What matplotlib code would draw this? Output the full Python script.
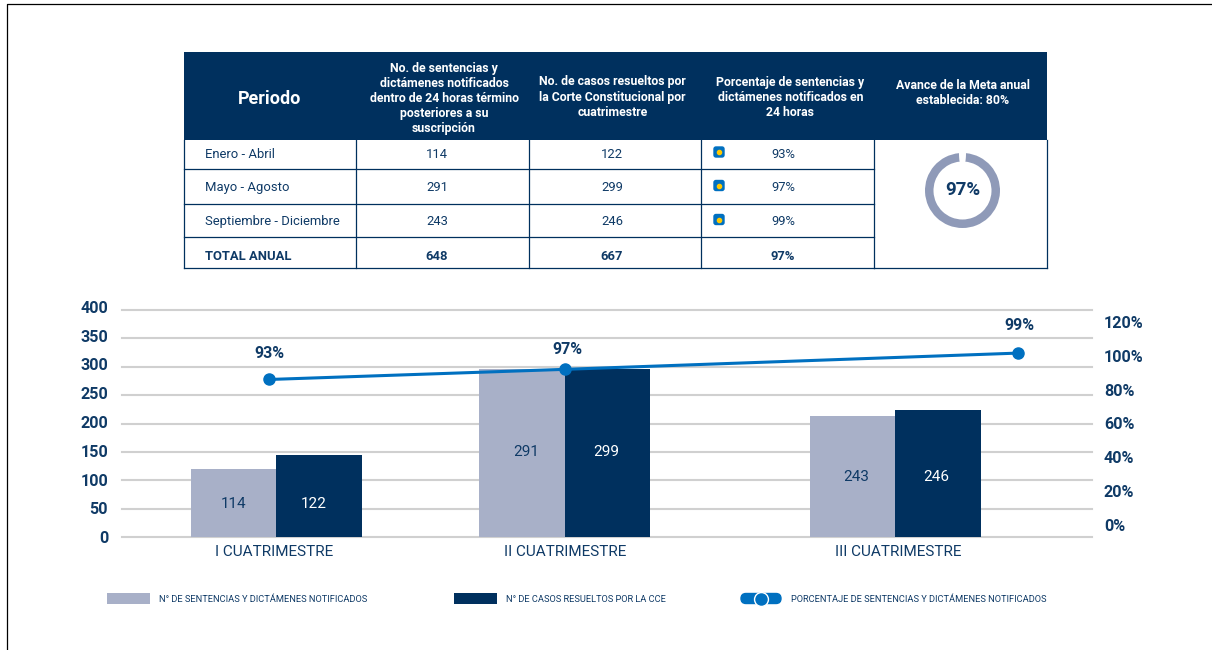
import matplotlib
matplotlib.use('Agg')
from matplotlib import pyplot as plt
from matplotlib.patches import FancyBboxPatch, Rectangle
from matplotlib.transforms import ScaledTranslation

plt.rcParams['font.family'] = ['Roboto', 'DejaVu Sans']

# table
headers = ['Periodo',
	'No. de sentencias y\ndictámenes notificados\ndentro de 24 horas término\nposteriores a su\nsuscripción',
	'No. de casos resueltos por\nla Corte Constitucional por\ncuatrimestre',
	'Porcentaje de sentencias y\ndictámenes notificados en\n24 horas',
	'Avance de la Meta anual\nestablecida: 80%']
periodos = ['Enero - Abril', 'Mayo - Agosto', 'Septiembre - Diciembre']
notificados = [114, 291, 243]
resueltos = [122, 299, 246]
porcentajes = [93, 97, 99]
total_label = 'TOTAL ANUAL'
total_notificados = 648
total_resueltos = 667
total_porcentaje = 97
avance = 97

# chart, the drawn heights differ from the printed labels in the original
categorias = ['I CUATRIMESTRE', 'II CUATRIMESTRE', 'III CUATRIMESTRE']
alto_notificados = [120, 296, 213]
alto_resueltos = [144, 296, 224]
linea_valores = [86, 92, 101.6]
ticks_izq = [0, 50, 100, 150, 200, 250, 300, 350, 400]
ticks_der = [0, 20, 40, 60, 80, 100, 120]
leyenda = ['N° DE SENTENCIAS Y DICTÁMENES NOTIFICADOS', 'N° DE CASOS RESUELTOS POR LA CCE',
	'PORCENTAJE DE SENTENCIAS Y DICTÁMENES NOTIFICADOS']

NAVY = '#00305E'
TEXT = '#0F3A66'
GREY = '#A8B0C8'
BLUE = '#0070C0'
W, H = 1212, 650

fig = plt.figure(figsize=(W / 100, H / 100), dpi=100)

# chart axes, x runs in picture pixels because the groups are not evenly spaced
ax = fig.add_axes([122 / W, 1 - 537 / H, 970 / W, 227 / H])
ax.set_xlim(122, 1092)
ax.set_ylim(0, 400)
for s in ax.spines.values():
	s.set_visible(False)
ax.set_yticks(ticks_izq)
ax.grid(axis='y', color='#D0D0D0', lw=1.5, zorder=0, clip_on=False)
ax.set_axisbelow(True)
ax.tick_params(axis='y', length=0, pad=10, labelsize=11.6, labelcolor=TEXT)
for t, label in zip(ticks_izq, ax.get_yticklabels()):
	label.set_fontweight('bold')
	label.set_transform(label.get_transform() + ScaledTranslation(0, 3 * t / 400 / 100, fig.dpi_scale_trans))

centros = [276.3, 564.5, 895.2]
ancho = 85.4
ax.bar([c - ancho / 2 for c in centros], alto_notificados, width=ancho, color=GREY, zorder=2)
ax.bar([c + ancho / 2 for c in centros], alto_resueltos, width=ancho, color=NAVY, zorder=2)
ax.set_xticks([274, 565, 898])
ax.set_xticklabels(categorias)
ax.tick_params(axis='x', length=0, pad=5.5, labelsize=11, labelcolor=TEXT)

label_y = [58.5, 149.5, 105.5]
x_n = [234, 526, 856]
x_r = [314, 606, 936]
for i in range(3):
	ax.text(x_n[i], label_y[i], str(notificados[i]), ha='center', va='center', fontsize=11, color=TEXT, zorder=4)
	ax.text(x_r[i], label_y[i], str(resueltos[i]), ha='center', va='center', fontsize=11, color='white', zorder=4)

# secondary axis, 0% sits above the primary baseline in the original
ax2 = ax.twinx()
ax2.set_ylim(-12 / 1.692, 215 / 1.692)
for s in ax2.spines.values():
	s.set_visible(False)
ax2.set_yticks(ticks_der)
ax2.set_yticklabels([f'{t}%' for t in ticks_der], fontweight='bold')
ax2.tick_params(axis='y', length=0, pad=8.5, labelsize=11.6, labelcolor=TEXT)
linea_x = [269, 565, 1018]
ax2.plot(linea_x, linea_valores, color=BLUE, lw=2.2, marker='o', ms=8, zorder=5)
offsets = [(0, 19), (2, 14.5), (1, 20)]
for x, y, p, o in zip(linea_x, linea_valores, porcentajes, offsets):
	ax2.annotate(f'{p}%', (x, y), xytext=o, textcoords='offset points', ha='center', va='center',
		fontsize=11.5, fontweight='bold', color=TEXT)

# overlay in picture pixels for the table, legend and page frame
ov = fig.add_axes([0, 0, 1, 1], zorder=10)
ov.set_xlim(0, W)
ov.set_ylim(H, 0)
ov.axis('off')
ov.patch.set_alpha(0)

ov.plot([7, 7, W], [H, 4, 4], color='black', lw=0.9)

cols = [183.5, 356, 528.5, 701, 874, 1046.5]
rows = [140, 169, 203.5, 237, 267.5]
ov.add_patch(Rectangle((cols[0], 52), cols[-1] - cols[0], rows[0] - 52, color=NAVY, lw=0))
ov.text(269.5, 99, headers[0], ha='center', va='center', color='white', fontsize=13, fontweight='bold')
header_x = [444, 612.5, 790.5, 962.5]
header_y = [98.5, 97, 97.5, 93]
for x, y, h in zip(header_x, header_y, headers[1:]):
	ov.text(x, y, h, ha='center', va='center', color='white', fontsize=8.85, fontweight='bold', linespacing=1.22)

for x in cols:
	ov.plot([x, x], [rows[0], rows[-1]], color=NAVY, lw=0.9)
for y in rows[1:]:
	ov.plot([cols[0], cols[4]], [y, y], color=NAVY, lw=0.9)
ov.plot([cols[4], cols[5]], [rows[-1], rows[-1]], color=NAVY, lw=0.9)

text_y = [154, 187.5, 221.5, 256]
for i in range(3):
	ov.text(205, text_y[i], periodos[i], ha='left', va='center', color=TEXT, fontsize=9.4)
	ov.text(437, text_y[i], str(notificados[i]), ha='center', va='center', color=TEXT, fontsize=9.4)
	ov.text(612, text_y[i], str(resueltos[i]), ha='center', va='center', color=TEXT, fontsize=9.4)
	ov.text(783, text_y[i], f'{porcentajes[i]}%', ha='center', va='center', color=TEXT, fontsize=9.4)
	ov.add_patch(FancyBboxPatch((714, text_y[i] - 7), 10, 10, boxstyle='round,pad=0,rounding_size=2', fc=BLUE, ec=BLUE, lw=1))
	ov.plot(719, text_y[i] - 2, 'o', color='#FFC800', ms=3)
ov.text(205, text_y[3], total_label, ha='left', va='center', color=TEXT, fontsize=9.4, fontweight='bold')
ov.text(437, text_y[3], str(total_notificados), ha='center', va='center', color=TEXT, fontsize=9.4, fontweight='bold')
ov.text(612, text_y[3], str(total_resueltos), ha='center', va='center', color=TEXT, fontsize=9.4, fontweight='bold')
ov.text(783, text_y[3], f'{total_porcentaje}%', ha='center', va='center', color=TEXT, fontsize=9.4, fontweight='bold')

# donut
dn = fig.add_axes([(962.5 - 40) / W, 1 - (190.5 + 40) / H, 80 / W, 80 / H], zorder=11)
dn.pie([avance, 100 - avance], colors=['#8F9AB8', 'white'], startangle=90 - (100 - avance) * 1.8, counterclock=False,
	radius=37.5 / 40, wedgeprops={'width': 8.5 / 40, 'lw': 0})
dn.set_xlim(-1, 1)
dn.set_ylim(-1, 1)
dn.text(0, 0, f'{avance}%', ha='center', va='center', color=TEXT, fontsize=13.5, fontweight='bold')

# legend
ov.add_patch(Rectangle((107, 593), 43, 11, color=GREY, lw=0))
ov.text(159, 599, leyenda[0], va='center', color=TEXT, fontsize=6.65)
ov.add_patch(Rectangle((454, 593), 43, 11, color=NAVY, lw=0))
ov.text(506, 599, leyenda[1], va='center', color=TEXT, fontsize=6.65)
ov.add_patch(FancyBboxPatch((741, 593.5), 40, 10, boxstyle='round,pad=0,rounding_size=5', fc=BLUE, ec=BLUE, lw=1))
ov.plot(761, 598.5, 'o', color=BLUE, ms=10, mec='white', mew=1)
ov.text(791, 599, leyenda[2], va='center', color=TEXT, fontsize=6.65)

fig.savefig('out.png', dpi=100)
